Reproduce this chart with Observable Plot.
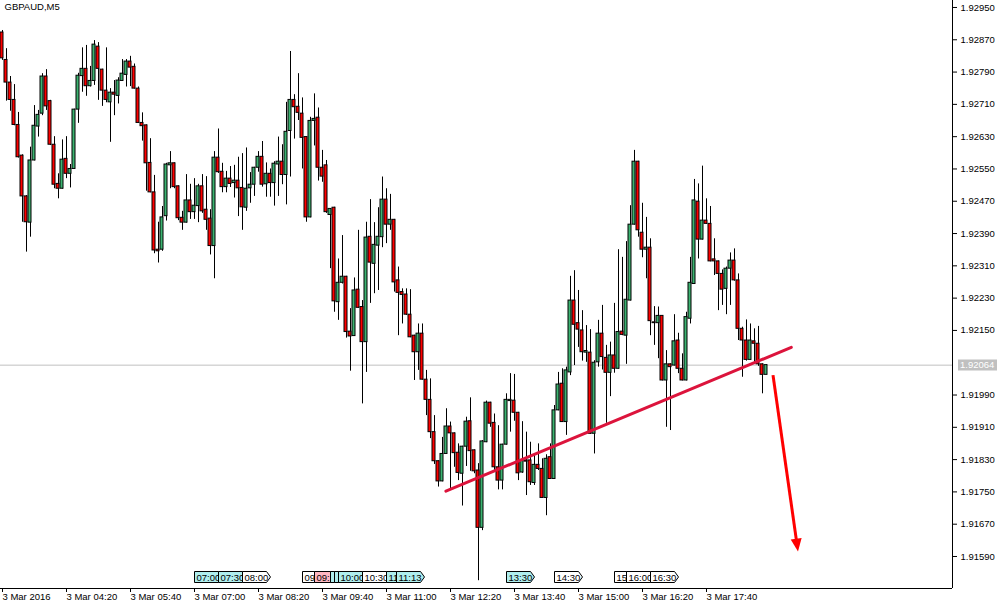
<!DOCTYPE html>
<html><head><meta charset="utf-8">
<script src="https://cdn.jsdelivr.net/npm/d3@7"></script>
<script src="https://cdn.jsdelivr.net/npm/@observablehq/plot@0.6"></script>
<style>body{margin:0;background:#fff;}#chart svg{display:block;}</style>
</head><body><div id="chart"></div>
<script>
const title = "GBPAUD,M5";
// 5-minute bars starting 3 Mar 2016 03:00
const open = [1.92888,1.92820,1.92764,1.92721,1.92659,1.92583,1.92482,1.92417,1.92571,1.92655,1.92687,1.92779,1.92718,1.92610,1.92513,1.92501,1.92575,1.92538,1.92550,1.92697,
1.92780,1.92798,1.92755,1.92768,1.92853,1.92796,1.92744,1.92715,1.92739,1.92731,1.92768,1.92783,1.92816,1.92803,1.92749,1.92664,1.92658,1.92565,1.92492,1.92350,
1.92350,1.92433,1.92559,1.92564,1.92507,1.92429,1.92417,1.92472,1.92443,1.92458,1.92507,1.92449,1.92427,1.92359,1.92578,1.92543,1.92505,1.92526,1.92515,1.92521,
1.92503,1.92454,1.92502,1.92511,1.92553,1.92580,1.92512,1.92538,1.92515,1.92561,1.92568,1.92535,1.92644,1.92721,1.92704,1.92687,1.92629,1.92430,1.92669,1.92677,
1.92553,1.92559,1.92436,1.92454,1.92220,1.92268,1.92283,1.92147,1.92136,1.92251,1.92208,1.92121,1.92382,1.92315,1.92360,1.92381,1.92474,1.92412,1.92424,1.92274,
1.92245,1.92239,1.92189,1.92137,1.92096,1.92142,1.92028,1.91978,1.91898,1.91826,1.91776,1.91844,1.91912,1.91895,1.91847,1.91795,1.91862,1.91925,1.91853,1.91803,
1.91661,1.91873,1.91971,1.91921,1.91811,1.91778,1.91867,1.91975,1.91976,1.91946,1.91798,1.91828,1.91828,1.91772,1.91817,1.91807,1.91735,1.91836,1.91782,1.91952,
1.92018,1.91923,1.92046,1.92224,1.92168,1.92150,1.92095,1.92095,1.91894,1.92071,1.92142,1.92082,1.92045,1.92088,1.92055,1.92147,1.92137,1.92224,1.92412,1.92568,
1.92392,1.92350,1.92355,1.92170,1.92168,1.92186,1.92026,1.92066,1.92063,1.92125,1.92055,1.92026,1.92179,1.92265,1.92469,1.92375,1.92422,1.92414,1.92326,1.92321,
1.92290,1.92253,1.92303,1.92323,1.92274,1.92154,1.92125,1.92077,1.92123,1.92117,1.92066,1.92040];
const high = [1.92893,1.92848,1.92779,1.92759,1.92690,1.92585,1.92484,1.92604,1.92707,1.92695,1.92786,1.92796,1.92720,1.92630,1.92538,1.92622,1.92630,1.92561,1.92698,1.92787,
1.92850,1.92856,1.92804,1.92868,1.92863,1.92797,1.92850,1.92749,1.92769,1.92776,1.92821,1.92821,1.92829,1.92810,1.92753,1.92689,1.92659,1.92625,1.92534,1.92418,
1.92457,1.92564,1.92593,1.92565,1.92508,1.92445,1.92536,1.92512,1.92526,1.92512,1.92536,1.92531,1.92449,1.92593,1.92649,1.92564,1.92544,1.92556,1.92559,1.92579,
1.92588,1.92602,1.92541,1.92554,1.92593,1.92618,1.92565,1.92550,1.92568,1.92629,1.92610,1.92715,1.92841,1.92734,1.92786,1.92726,1.92630,1.92678,1.92736,1.92701,
1.92596,1.92571,1.92452,1.92455,1.92327,1.92385,1.92284,1.92204,1.92280,1.92398,1.92224,1.92418,1.92474,1.92417,1.92454,1.92530,1.92501,1.92487,1.92425,1.92307,
1.92253,1.92253,1.92251,1.92138,1.92166,1.92166,1.92051,1.92030,1.91939,1.91827,1.91885,1.91956,1.91923,1.91896,1.91869,1.91863,1.91935,1.91983,1.91854,1.91820,
1.91877,1.91975,1.91972,1.91943,1.91914,1.91868,1.91993,1.92043,1.92041,1.91947,1.91924,1.91898,1.91873,1.91842,1.91869,1.91832,1.91842,1.91869,1.91964,1.92046,
1.92055,1.92059,1.92284,1.92298,1.92249,1.92199,1.92162,1.92152,1.92075,1.92175,1.92212,1.92113,1.92121,1.92217,1.92350,1.92331,1.92370,1.92459,1.92596,1.92569,
1.92465,1.92430,1.92377,1.92209,1.92208,1.92187,1.92100,1.92067,1.92189,1.92143,1.92092,1.92195,1.92331,1.92524,1.92513,1.92557,1.92476,1.92457,1.92377,1.92322,
1.92300,1.92307,1.92342,1.92352,1.92290,1.92158,1.92176,1.92166,1.92154,1.92160,1.92067,1.92065];
const low = [1.92819,1.92718,1.92693,1.92657,1.92577,1.92418,1.92344,1.92381,1.92570,1.92629,1.92682,1.92695,1.92608,1.92501,1.92476,1.92500,1.92526,1.92503,1.92549,1.92663,
1.92740,1.92730,1.92753,1.92757,1.92720,1.92705,1.92714,1.92616,1.92682,1.92711,1.92767,1.92753,1.92754,1.92748,1.92663,1.92619,1.92495,1.92491,1.92340,1.92317,
1.92346,1.92421,1.92501,1.92501,1.92422,1.92398,1.92416,1.92425,1.92425,1.92417,1.92440,1.92398,1.92337,1.92278,1.92539,1.92491,1.92491,1.92504,1.92478,1.92432,
1.92398,1.92445,1.92465,1.92482,1.92542,1.92505,1.92480,1.92480,1.92458,1.92482,1.92511,1.92461,1.92530,1.92624,1.92670,1.92550,1.92418,1.92429,1.92607,1.92520,
1.92517,1.92440,1.92303,1.92195,1.92175,1.92265,1.92131,1.92049,1.92135,1.92205,1.91968,1.92046,1.92217,1.92241,1.92249,1.92355,1.92365,1.92398,1.92245,1.92137,
1.92166,1.92187,1.92132,1.92026,1.92051,1.92027,1.91939,1.91882,1.91818,1.91762,1.91775,1.91843,1.91758,1.91811,1.91778,1.91715,1.91813,1.91801,1.91795,1.91530,
1.91654,1.91872,1.91910,1.91803,1.91755,1.91755,1.91866,1.91898,1.91925,1.91778,1.91796,1.91741,1.91766,1.91766,1.91803,1.91734,1.91691,1.91781,1.91781,1.91951,
1.91922,1.91890,1.92038,1.92063,1.92108,1.92074,1.92071,1.91893,1.91844,1.92059,1.92052,1.91920,1.91986,1.92044,1.92054,1.92137,1.92066,1.92223,1.92411,1.92381,
1.92330,1.92278,1.92137,1.92113,1.92080,1.92025,1.91910,1.91902,1.92062,1.92043,1.92025,1.92025,1.92166,1.92264,1.92327,1.92374,1.92413,1.92320,1.92286,1.92199,
1.92212,1.92189,1.92212,1.92272,1.92125,1.92034,1.92074,1.92076,1.92071,1.92061,1.91993,1.92040];
const close = [1.92824,1.92764,1.92721,1.92659,1.92579,1.92482,1.92418,1.92571,1.92657,1.92684,1.92779,1.92705,1.92610,1.92511,1.92501,1.92573,1.92538,1.92550,1.92697,1.92781,
1.92798,1.92755,1.92768,1.92858,1.92798,1.92744,1.92721,1.92739,1.92734,1.92769,1.92786,1.92816,1.92801,1.92749,1.92664,1.92656,1.92564,1.92492,1.92348,1.92346,
1.92430,1.92561,1.92564,1.92505,1.92428,1.92417,1.92472,1.92443,1.92459,1.92507,1.92445,1.92424,1.92359,1.92578,1.92542,1.92505,1.92526,1.92513,1.92521,1.92502,
1.92455,1.92501,1.92511,1.92553,1.92580,1.92511,1.92538,1.92515,1.92563,1.92568,1.92535,1.92642,1.92721,1.92703,1.92689,1.92627,1.92430,1.92669,1.92674,1.92553,
1.92531,1.92443,1.92451,1.92222,1.92268,1.92283,1.92146,1.92135,1.92249,1.92206,1.92121,1.92380,1.92318,1.92362,1.92382,1.92474,1.92412,1.92424,1.92269,1.92243,
1.92238,1.92189,1.92133,1.92096,1.92142,1.92028,1.91978,1.91898,1.91826,1.91776,1.91844,1.91912,1.91895,1.91846,1.91797,1.91862,1.91924,1.91851,1.91801,1.91661,
1.91875,1.91971,1.91919,1.91811,1.91778,1.91867,1.91978,1.91978,1.91946,1.91796,1.91828,1.91825,1.91774,1.91817,1.91807,1.91735,1.91832,1.91782,1.91952,1.92016,
1.91923,1.92051,1.92224,1.92164,1.92152,1.92096,1.92099,1.91894,1.92070,1.92142,1.92084,1.92045,1.92088,1.92055,1.92146,1.92139,1.92226,1.92412,1.92568,1.92398,
1.92350,1.92355,1.92173,1.92168,1.92186,1.92026,1.92066,1.92059,1.92123,1.92055,1.92026,1.92183,1.92268,1.92472,1.92375,1.92422,1.92414,1.92321,1.92321,1.92290,
1.92251,1.92303,1.92323,1.92274,1.92154,1.92125,1.92077,1.92125,1.92117,1.92066,1.92040,1.92064];

const bidPrice = 1.92064;
const xTickBars = [0,16,32,48,64,80,96,112,128,144,160,176];
const xTickLabels = ["3 Mar 2016","3 Mar 04:20","3 Mar 05:40","3 Mar 07:00","3 Mar 08:20","3 Mar 09:40","3 Mar 11:00","3 Mar 12:20","3 Mar 13:40","3 Mar 15:00","3 Mar 16:20","3 Mar 17:40"];
const yTicks = [1.92950,1.92870,1.92790,1.92710,1.92630,1.92550,1.92470,1.92390,1.92310,1.92230,1.92150,1.91990,1.91910,1.91830,1.91750,1.91670,1.91590];

// trend line (bar index, price) and drawn arrow
const trendBars = [110.85, 197.2];
const trendPrices = [1.91752, 1.92108];
const arrowBars = [192.75, 199.0];
const arrowPrices = [1.92038, 1.91601];

// calendar event markers
const eventTimes = ["07:00","07:30","08:00","09:15","09:30","09:50","09:55","10:00","10:30","11:00","11:13","13:30","14:30","15:45","16:00","16:30"];
const eventKinds = ["cyan","cyan","white","white","pink","cyan","cyan","cyan","white","cyan","cyan","cyan","white","white","white","white"];

const GREEN = "#3cb371", RED = "#ff0000";
const FONT = "Liberation Sans";
const kindFill = {cyan: "#afeeee", white: "#ffffff", pink: "#ffb6c1"};

const bars = open.map((o, i) => ({i, o, h: high[i], l: low[i], c: close[i], up: close[i] >= o}));
const tickLabelOf = new Map(xTickBars.map((b, k) => [b, xTickLabels[k]]));
const barOfTime = t => { const [h, m] = t.split(":").map(Number); return (h * 60 + m - 180) / 5; };
const trend = trendBars.map((b, k) => ({x: b, y: trendPrices[k]}));

// approximate advance widths of the 9.5px label font, used to cut a label where the next marker covers it
const charW = ch => ch === ":" ? 2.64 : 5.28;
function fitText(t, avail) {
  let s = "", w = 0;
  for (const ch of t) { w += charW(ch); if (w > avail) break; s += ch; }
  return s;
}

function eventsMark(index, scales, values, dimensions) {
  const g = d3.create("svg:g");
  const yb = dimensions.height - dimensions.marginBottom;
  const top = yb - 16.5, h = 11, w = 28, tip = 4;
  const xs = eventTimes.map(t => Math.round(scales.x(barOfTime(t))) + 0.5);
  eventTimes.forEach((t, k) => {
    const xl = xs[k];
    g.append("path")
      .attr("d", `M${xl},${top}H${xl + w - tip}L${xl + w},${top + h / 2}L${xl + w - tip},${top + h}H${xl}Z`)
      .attr("fill", kindFill[eventKinds[k]]).attr("stroke", "black").attr("stroke-width", 1);
    const avail = k < xs.length - 1 ? xs[k + 1] - (xl + 2) + 3 : Infinity;
    const s = fitText(t, avail);
    if (s) g.append("text").attr("x", xl + 2).attr("y", top + h - 2).attr("text-anchor", "start")
      .attr("font-family", FONT).attr("font-size", "9.5px").attr("fill", "black")
      .text(s);
  });
  return g.node();
}
function bidLabelMark(index, scales, values, dimensions) {
  const g = d3.create("svg:g");
  const y = Math.round(scales.y(bidPrice));
  const x0 = dimensions.width - dimensions.marginRight + 6;
  g.append("rect").attr("x", x0).attr("y", y - 5.5).attr("width", 39).attr("height", 11).attr("fill", "#c0c0c0");
  g.append("text").attr("x", x0 + 2).attr("y", y).attr("dy", "0.35em").attr("text-anchor", "start")
    .attr("font-family", FONT).attr("font-size", "9.5px").attr("fill", "white").text(bidPrice.toFixed(5));
  return g.node();
}
function arrowMark(index, scales) {
  const g = d3.create("svg:g");
  const xa = scales.x(arrowBars[0]), ya = scales.y(arrowPrices[0]);
  const xb = scales.x(arrowBars[1]), yb = scales.y(arrowPrices[1]);
  const len = Math.hypot(xb - xa, yb - ya), ux = (xb - xa) / len, uy = (yb - ya) / len;
  const headL = 13, headW = 5.5;
  const bx = xb - ux * headL, by = yb - uy * headL;
  g.append("line").attr("x1", xa).attr("y1", ya).attr("x2", bx + ux * 2).attr("y2", by + uy * 2)
    .attr("stroke", "#ff0000").attr("stroke-width", 3);
  g.append("path").attr("d", `M${xb},${yb}L${bx - uy * headW},${by + ux * headW}L${bx + uy * headW},${by - ux * headW}Z`)
    .attr("fill", "#ff0000");
  return g.node();
}

const yMin = 1.915107, yMax = 1.929673;
const chart = Plot.plot({
  width: 1008, height: 608,
  marginLeft: 0, marginRight: 56, marginTop: 0, marginBottom: 20,
  x: {domain: [-0.5, 237.5], label: null},
  y: {domain: [yMin, yMax], label: null},
  style: {fontFamily: FONT, fontSize: "9.5px", color: "black", background: "white", overflow: "visible"},
  marks: [
    Plot.ruleY([bidPrice], {stroke: "#c0c0c0"}),
    Plot.ruleX(bars, {x: "i", y1: "l", y2: "h", stroke: "black", strokeWidth: 1}),
    Plot.rect(bars, {x1: d => d.i - 0.5, x2: d => d.i + 0.25, y1: "o", y2: "c", fill: d => d.up ? GREEN : RED, stroke: "black", strokeWidth: 1}),
    Plot.line(trend, {x: "x", y: "y", stroke: "#dc143c", strokeWidth: 3}),
    arrowMark,
    Plot.ruleX([237.5], {stroke: "black"}),
    Plot.ruleY([yMin], {stroke: "black"}),
    Plot.axisX({ticks: xTickBars, tickFormat: d => tickLabelOf.get(d), tickSize: 4, tickPadding: 1, textAnchor: "start", label: null}),
    Plot.axisY({anchor: "right", ticks: yTicks, tickFormat: d => d.toFixed(5), tickSize: 4, tickPadding: 4, label: null}),
    Plot.text([title], {frameAnchor: "top-left", dx: 4, dy: 3, lineAnchor: "top", textAnchor: "start", fill: "black"}),
    eventsMark,
    bidLabelMark
  ]
});
document.getElementById("chart").append(chart);
</script>
</body></html>
